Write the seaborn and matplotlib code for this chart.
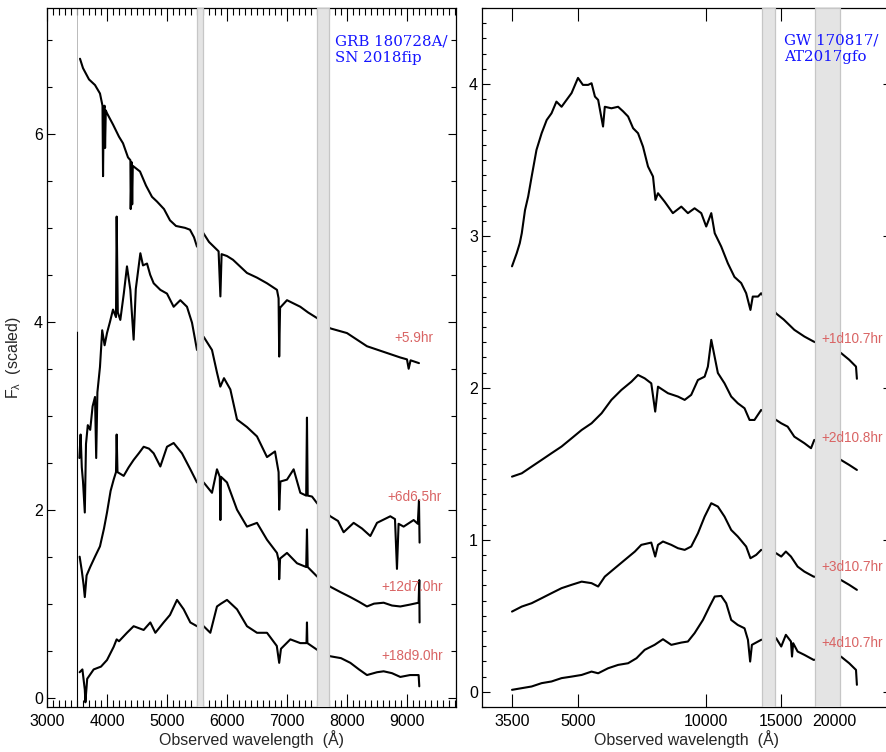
import numpy as np
import pandas as pd
import matplotlib
matplotlib.use("Agg")
import matplotlib.pyplot as plt
import seaborn as sns
from matplotlib.ticker import MultipleLocator, FixedLocator, NullLocator, FixedFormatter

sns.set_theme(style="ticks")
plt.rcParams['font.family'] = ['Liberation Sans', 'DejaVu Sans']
plt.rcParams['mathtext.default'] = 'regular'

# ---------------- data: GRB 180728A / SN 2018fip (left) ----------------
grb_labels = ["+5.9hr", "+6d6.5hr", "+12d7.0hr", "+18d9.0hr"]

grb1_wl = [3550, 3600, 3700, 3800, 3883, 3925, 3934, 3945, 3960, 3968, 3980, 4000, 4100, 4200, 4267,
           4350, 4390, 4395, 4410, 4420, 4430, 4550, 4650, 4750, 4833, 4950, 5050, 5150, 5300, 5383,
           5450, 5500, 5600, 5700, 5860, 5890, 5910, 6000, 6100, 6333, 6500, 6667, 6833, 6860, 6870,
           6885, 7000, 7222, 7350, 7500, 7722, 8000, 8333, 8611, 8889, 9000, 9028, 9060, 9200]
grb1_fx = [6.80, 6.70, 6.58, 6.52, 6.43, 6.30, 5.55, 6.25, 6.30, 5.85, 6.25, 6.22, 6.10, 5.97, 5.90,
           5.75, 5.72, 5.20, 5.70, 5.25, 5.66, 5.60, 5.45, 5.33, 5.28, 5.20, 5.08, 5.02, 5.00, 4.98,
           4.90, 4.80, 4.95, 4.85, 4.75, 4.27, 4.72, 4.70, 4.66, 4.52, 4.47, 4.41, 4.34, 4.25, 3.63,
           4.15, 4.23, 4.16, 4.10, 4.04, 3.93, 3.88, 3.74, 3.68, 3.62, 3.60, 3.50, 3.59, 3.56]

grb2_wl = [3540, 3560, 3580, 3600, 3630, 3650, 3680, 3720, 3760, 3800, 3820, 3840, 3883, 3920, 3960,
           4000, 4050, 4100, 4150, 4161, 4180, 4222, 4280, 4333, 4389, 4444, 4480, 4556, 4600, 4667,
           4720, 4778, 4889, 5000, 5111, 5222, 5333, 5417, 5500, 5611, 5750, 5833, 5889, 5950, 6056,
           6167, 6333, 6500, 6667, 6800, 6860, 6870, 6890, 7000, 7111, 7222, 7320, 7333, 7345, 7417,
           7500, 7722, 7850, 7944, 8111, 8250, 8389, 8500, 8722, 8800, 8833, 8860, 8944, 9111, 9180,
           9200, 9210]
grb2_fx = [2.55, 2.80, 2.45, 2.30, 1.97, 2.70, 2.90, 2.85, 3.10, 3.20, 2.55, 3.25, 3.52, 3.91, 3.75,
           3.88, 4.00, 4.13, 4.05, 5.12, 4.10, 4.02, 4.30, 4.59, 4.34, 3.81, 4.35, 4.73, 4.60, 4.62,
           4.50, 4.41, 4.34, 4.30, 4.16, 4.23, 4.16, 3.99, 3.70, 3.84, 3.70, 3.46, 3.31, 3.40, 3.28,
           2.96, 2.88, 2.78, 2.56, 2.62, 2.40, 2.00, 2.30, 2.32, 2.43, 2.18, 2.15, 2.98, 2.15, 2.14,
           2.07, 1.93, 1.88, 1.76, 1.86, 1.80, 1.72, 1.86, 1.93, 1.90, 1.37, 1.85, 1.82, 1.89, 1.85,
           2.10, 1.65]

grb3_wl = [3544, 3580, 3610, 3630, 3660, 3720, 3800, 3883, 3950, 4000, 4060, 4111, 4150, 4161, 4175,
           4278, 4360, 4444, 4530, 4611, 4700, 4778, 4889, 5000, 5111, 5250, 5389, 5500, 5611, 5750,
           5833, 5880, 5890, 5900, 6000, 6167, 6333, 6500, 6667, 6833, 6865, 6870, 6885, 7000, 7167,
           7320, 7333, 7345, 7500, 7722, 7900, 8056, 8200, 8333, 8450, 8611, 8750, 8889, 9050, 9194,
           9205, 9210]
grb3_fx = [1.50, 1.35, 1.20, 1.07, 1.30, 1.39, 1.50, 1.61, 1.80, 1.97, 2.20, 2.32, 2.40, 2.80, 2.40,
           2.36, 2.45, 2.53, 2.60, 2.67, 2.65, 2.60, 2.46, 2.67, 2.71, 2.60, 2.43, 2.29, 2.29, 2.18,
           2.43, 2.35, 1.89, 2.35, 2.29, 2.00, 1.82, 1.86, 1.68, 1.54, 1.45, 1.26, 1.48, 1.54, 1.43,
           1.39, 1.79, 1.39, 1.29, 1.18, 1.12, 1.07, 1.02, 0.97, 1.00, 1.01, 0.98, 0.97, 0.99, 1.01,
           1.25, 0.80]

grb4_wl = [3544, 3590, 3630, 3640, 3670, 3778, 3900, 4000, 4111, 4161, 4200, 4333, 4444, 4611, 4722,
           4806, 4944, 5050, 5167, 5278, 5389, 5500, 5611, 5722, 5833, 5900, 6000, 6167, 6333, 6500,
           6667, 6830, 6870, 6900, 7056, 7222, 7325, 7333, 7340, 7500, 7722, 7900, 8056, 8200, 8333,
           8500, 8611, 8750, 8889, 9050, 9194, 9205]
grb4_fx = [0.27, 0.30, 0.085, -0.05, 0.20, 0.30, 0.33, 0.40, 0.54, 0.62, 0.60, 0.69, 0.76, 0.72, 0.80,
           0.69, 0.80, 0.88, 1.04, 0.94, 0.80, 0.76, 0.76, 0.69, 0.97, 1.00, 1.04, 0.94, 0.76, 0.69,
           0.69, 0.55, 0.37, 0.52, 0.62, 0.58, 0.58, 0.80, 0.58, 0.51, 0.44, 0.42, 0.37, 0.30, 0.24,
           0.27, 0.28, 0.26, 0.22, 0.24, 0.24, 0.12]

grb_bands = [(5500, 5600), (7500, 7700)]
grb_edge_wl = 3500

# ---------------- data: GW 170817 / AT2017gfo (right) ----------------
gw_labels = ["+1d10.7hr", "+2d10.8hr", "+3d10.7hr", "+4d10.7hr"]

gw1_wl = [3500, 3590, 3650, 3690, 3755, 3820, 3892, 3995, 4108, 4222, 4333, 4450, 4575, 4700, 4829,
          5000, 5135, 5282, 5380, 5480, 5576, 5725, 5780, 5990, 6210, 6380, 6555, 6735, 6917, 7105,
          7300, 7500, 7600, 7705, 7985, 8350, 8740, 9058, 9390, 9735, 10000, 10277, 10470, 10845,
          11240, 11650, 12080, 12410, 12700, 12860, 13230, 13457, 14590, 15200, 16100, 17000, 17870,
          20710, 21660, 22470, 22580]
gw1_fx = [2.80, 2.886, 2.952, 3.018, 3.17, 3.26, 3.39, 3.566, 3.676, 3.763, 3.807, 3.884, 3.85, 3.895,
          3.94, 4.04, 3.994, 3.994, 4.005, 3.917, 3.895, 3.72, 3.85, 3.84, 3.85, 3.82, 3.786, 3.709,
          3.676, 3.588, 3.457, 3.391, 3.237, 3.281, 3.226, 3.15, 3.193, 3.15, 3.182, 3.15, 3.062, 3.15,
          3.018, 2.93, 2.82, 2.73, 2.69, 2.623, 2.513, 2.601, 2.601, 2.623, 2.49, 2.45, 2.382, 2.338,
          2.305, 2.23, 2.185, 2.14, 2.06]

gw2_wl = [3500, 3690, 3892, 4108, 4333, 4575, 4829, 5100, 5380, 5680, 5990, 6320, 6675, 6917, 7170,
          7430, 7590, 7705, 8131, 8582, 8900, 9220, 9561, 9915, 10090, 10277, 10650, 11040, 11446,
          11860, 12300, 12640, 12980, 13457, 14590, 15000, 15530, 16100, 17000, 17620, 17937, 20710,
          21660, 22580]
gw2_fx = [1.416, 1.438, 1.482, 1.526, 1.57, 1.614, 1.668, 1.723, 1.767, 1.833, 1.921, 1.986, 2.041,
          2.085, 2.063, 2.03, 1.844, 2.008, 1.965, 1.943, 1.921, 1.954, 2.052, 2.074, 2.14, 2.316,
          2.098, 2.03, 1.943, 1.899, 1.866, 1.789, 1.789, 1.855, 1.789, 1.767, 1.745, 1.679, 1.636,
          1.603, 1.658, 1.526, 1.493, 1.46]

gw3_wl = [3500, 3690, 3892, 4108, 4333, 4575, 4829, 5100, 5380, 5576, 5780, 6100, 6440, 6800, 7040,
          7430, 7590, 7705, 7915, 8280, 8582, 8900, 9220, 9561, 9915, 10277, 10650, 11040, 11446,
          11860, 12410, 12700, 13100, 13457, 14590, 15000, 15380, 15810, 16390, 17000, 17870, 20710,
          21660, 22580]
gw3_fx = [0.528, 0.561, 0.583, 0.616, 0.649, 0.682, 0.704, 0.725, 0.715, 0.693, 0.758, 0.813, 0.868,
          0.923, 0.967, 0.982, 0.89, 0.967, 0.989, 0.967, 0.945, 0.934, 0.956, 1.043, 1.153, 1.241,
          1.219, 1.153, 1.065, 1.022, 0.956, 0.879, 0.901, 0.934, 0.912, 0.89, 0.923, 0.89, 0.824,
          0.791, 0.758, 0.736, 0.704, 0.671]

gw4_wl = [3500, 3690, 3892, 4108, 4333, 4575, 4829, 5100, 5380, 5576, 5884, 6210, 6555, 6860, 7170,
          7565, 7915, 8280, 8740, 9058, 9390, 9825, 10180, 10470, 10845, 11140, 11446, 11860, 12300,
          12530, 12680, 12800, 13457, 14590, 15000, 15380, 15810, 15900, 16000, 16390, 17000, 17870,
          20710, 21660, 22470, 22580]
gw4_fx = [0.013, 0.024, 0.035, 0.057, 0.068, 0.09, 0.10, 0.111, 0.133, 0.122, 0.155, 0.177, 0.188,
          0.221, 0.276, 0.309, 0.346, 0.309, 0.324, 0.331, 0.386, 0.473, 0.561, 0.627, 0.631, 0.583,
          0.473, 0.44, 0.418, 0.342, 0.199, 0.309, 0.342, 0.353, 0.298, 0.375, 0.331, 0.232, 0.32,
          0.265, 0.243, 0.21, 0.232, 0.188, 0.144, 0.046]

gw_bands = [(13500, 14500), (18000, 20600)]

# ---------------- build tables ----------------
def long_table(wls, fxs, labels):
    parts = []
    for w, f, lab in zip(wls, fxs, labels):
        parts.append(pd.DataFrame({"wl": w, "flux": f, "epoch": lab}))
    return pd.concat(parts, ignore_index=True)

df_grb = long_table([grb1_wl, grb2_wl, grb3_wl, grb4_wl],
                    [grb1_fx, grb2_fx, grb3_fx, grb4_fx], grb_labels)
df_gw = long_table([gw1_wl, gw2_wl, gw3_wl, gw4_wl],
                   [gw1_fx, gw2_fx, gw3_fx, gw4_fx], gw_labels)

# ---------------- figure ----------------
W, H = 887, 752
fig = plt.figure(figsize=(W / 100, H / 100), dpi=100)
axL = fig.add_axes([47 / W, 1 - 707 / H, 409 / W, 699 / H])
axR = fig.add_axes([482 / W, 1 - 707 / H, 409 / W, 699 / H])

label_color = '#d96464'
band_face = '#e4e4e4'
band_edge = '#c6c6c6'
title_color = '#1414ff'

for ax, df in ((axL, df_grb), (axR, df_gw)):
    sns.lineplot(data=df, x="wl", y="flux", units="epoch", estimator=None, sort=False,
                 color="black", lw=1.5, ax=ax, legend=False)

# left panel
for lo, hi in grb_bands:
    axL.axvspan(lo, hi, facecolor=band_face, edgecolor=band_edge, lw=0.9, zorder=3)
axL.set_xlim(3000, 9817)
axL.set_ylim(-0.1, 7.34)
axL.vlines(grb_edge_wl, -0.1, 3.9, color='black', lw=0.8, zorder=2)
axL.vlines(grb_edge_wl, 3.9, 7.34, color='#b0b0b0', lw=0.6, zorder=2)
axL.xaxis.set_major_locator(MultipleLocator(1000))
axL.xaxis.set_minor_locator(MultipleLocator(100))
axL.yaxis.set_major_locator(MultipleLocator(2))
axL.yaxis.set_minor_locator(MultipleLocator(0.5))

grb_lab_x = [9433, 9583, 9600, 9600]
grb_lab_y = [3.83, 2.14, 1.18, 0.44]
for lab, x, y in zip(grb_labels, grb_lab_x, grb_lab_y):
    axL.text(x, y, lab, color=label_color, fontsize=9.8, ha='right', va='center', zorder=5)
axL.text(0.704, 0.962, "GRB 180728A/\nSN 2018fip", transform=axL.transAxes, color=title_color,
         fontsize=10.8, family='DejaVu Serif', ha='left', va='top', linespacing=1.2, zorder=5)

# right panel
axR.set_xscale('log')
for lo, hi in gw_bands:
    axR.axvspan(lo, hi, facecolor=band_face, edgecolor=band_edge, lw=0.9, zorder=3)
axR.set_xlim(2976, 27150)
axR.set_ylim(-0.1, 4.5)
gw_ticks = [3500, 5000, 10000, 15000, 20000]
axR.xaxis.set_major_locator(FixedLocator(gw_ticks))
axR.xaxis.set_major_formatter(FixedFormatter([str(t) for t in gw_ticks]))
axR.xaxis.set_minor_locator(NullLocator())
axR.yaxis.set_major_locator(MultipleLocator(1))
axR.yaxis.set_minor_locator(MultipleLocator(0.1))

gw_lab_x = [18620, 18620, 18620, 18620]
gw_lab_y = [2.32, 1.67, 0.82, 0.32]
for lab, x, y in zip(gw_labels, gw_lab_x, gw_lab_y):
    axR.text(x, y, lab, color=label_color, fontsize=9.8, ha='left', va='center', zorder=5)
axR.text(0.738, 0.963, "GW 170817/\nAT2017gfo", transform=axR.transAxes, color=title_color,
         fontsize=10.8, family='DejaVu Serif', ha='left', va='top', linespacing=1.2, zorder=5)

for ax in (axL, axR):
    for s in ax.spines.values():
        s.set_linewidth(0.9)
        s.set_color('black')
    ax.tick_params(axis='both', which='both', direction='in', top=True, right=True,
                   colors='black', width=0.8, labelsize=11.5)
    ax.tick_params(axis='x', which='major', length=9.5, pad=5)
    ax.tick_params(axis='x', which='minor', length=5)
    ax.tick_params(axis='y', which='major', length=5.8, pad=3)
    ax.tick_params(axis='y', which='minor', length=3.4)
    ax.set_xlabel("Observed wavelength  (Å)", fontsize=11.5, labelpad=1)
    ax.set_ylabel("")
    ax.grid(False)

axR.tick_params(axis='y', which='minor', length=3)
axL.set_ylabel(r"F$_\lambda$  (scaled)", fontsize=11.5)
axL.yaxis.set_label_coords(-0.058, 0.5)

fig.savefig("out.png", dpi=100)
